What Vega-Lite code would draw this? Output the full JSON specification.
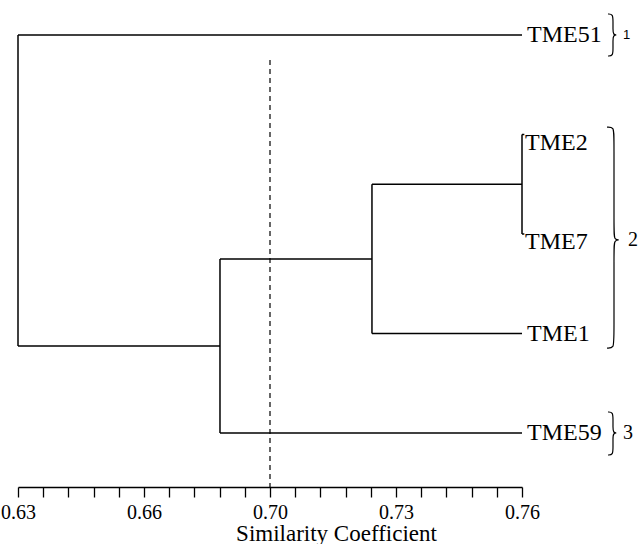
{
  "$schema": "https://vega.github.io/schema/vega-lite/v6.json",
  "width": 504,
  "height": 487,
  "autosize": {"type": "none"},
  "padding": {"left": 18, "top": 0, "right": 116, "bottom": 57},
  "background": "white",
  "config": {"view": {"stroke": null}},
  "datasets": {
    "segments": [
      {"x": 0.63, "x2": 0.76, "y": 1, "y2": 1},
      {"x": 0.63, "x2": 0.63, "y": 1, "y2": 4.125},
      {"x": 0.63, "x2": 0.6821, "y": 4.125, "y2": 4.125},
      {"x": 0.6821, "x2": 0.6821, "y": 3.25, "y2": 5},
      {"x": 0.6821, "x2": 0.76, "y": 5, "y2": 5},
      {"x": 0.6821, "x2": 0.7213, "y": 3.25, "y2": 3.25},
      {"x": 0.7213, "x2": 0.7213, "y": 2.5, "y2": 4},
      {"x": 0.7213, "x2": 0.76, "y": 4, "y2": 4},
      {"x": 0.7213, "x2": 0.76, "y": 2.5, "y2": 2.5},
      {"x": 0.76, "x2": 0.76, "y": 2, "y2": 3},
      {"x": 0.76, "x2": 0.7606, "y": 2, "y2": 2},
      {"x": 0.76, "x2": 0.7606, "y": 3, "y2": 3}
    ],
    "leaves": [
      {"name": "TME51", "x": 0.76, "y": 1},
      {"name": "TME2", "x": 0.76, "y": 2},
      {"name": "TME7", "x": 0.76, "y": 3},
      {"name": "TME1", "x": 0.76, "y": 4},
      {"name": "TME59", "x": 0.76, "y": 5}
    ],
    "cut": [{"x": 0.695, "y": 1.25, "y2": 5.5427}],
    "braces": [
      {"g": 1, "o": 1, "x": 0.78218, "y": 0.789},
      {"g": 1, "o": 2, "x": 0.78347, "y": 0.789},
      {"g": 1, "o": 3, "x": 0.78347, "y": 0.869},
      {"g": 1, "o": 4, "x": 0.78347, "y": 0.94},
      {"g": 1, "o": 5, "x": 0.78347, "y": 1.0},
      {"g": 1, "o": 6, "x": 0.78476, "y": 1.0},
      {"g": 1, "o": 7, "x": 0.78347, "y": 1.0},
      {"g": 1, "o": 8, "x": 0.78347, "y": 1.06},
      {"g": 1, "o": 9, "x": 0.78347, "y": 1.131},
      {"g": 1, "o": 10, "x": 0.78347, "y": 1.211},
      {"g": 1, "o": 11, "x": 0.78218, "y": 1.211},
      {"g": 2, "o": 1, "x": 0.78193, "y": 1.925},
      {"g": 2, "o": 2, "x": 0.78373, "y": 1.925},
      {"g": 2, "o": 3, "x": 0.78373, "y": 2.025},
      {"g": 2, "o": 4, "x": 0.78373, "y": 2.98},
      {"g": 2, "o": 5, "x": 0.78373, "y": 3.06},
      {"g": 2, "o": 6, "x": 0.78554, "y": 3.06},
      {"g": 2, "o": 7, "x": 0.78373, "y": 3.06},
      {"g": 2, "o": 8, "x": 0.78373, "y": 3.141},
      {"g": 2, "o": 9, "x": 0.78373, "y": 4.046},
      {"g": 2, "o": 10, "x": 0.78373, "y": 4.146},
      {"g": 2, "o": 11, "x": 0.78193, "y": 4.146},
      {"g": 3, "o": 1, "x": 0.78218, "y": 4.789},
      {"g": 3, "o": 2, "x": 0.78347, "y": 4.789},
      {"g": 3, "o": 3, "x": 0.78347, "y": 4.869},
      {"g": 3, "o": 4, "x": 0.78347, "y": 4.94},
      {"g": 3, "o": 5, "x": 0.78347, "y": 5.0},
      {"g": 3, "o": 6, "x": 0.78476, "y": 5.0},
      {"g": 3, "o": 7, "x": 0.78347, "y": 5.0},
      {"g": 3, "o": 8, "x": 0.78347, "y": 5.06},
      {"g": 3, "o": 9, "x": 0.78347, "y": 5.141},
      {"g": 3, "o": 10, "x": 0.78347, "y": 5.221},
      {"g": 3, "o": 11, "x": 0.78218, "y": 5.221}
    ],
    "groups": [
      {"label": "1", "x": 0.78605, "y": 1.0},
      {"label": "2", "x": 0.78734, "y": 3.06},
      {"label": "3", "x": 0.78605, "y": 5.0}
    ]
  },
  "layer": [
    {
      "data": {"name": "segments"},
      "mark": {"type": "rule", "stroke": "black", "strokeWidth": 1.5},
      "encoding": {
        "x": {
          "field": "x", "type": "quantitative",
          "scale": {"domain": [0.63, 0.76], "nice": false, "zero": false},
          "axis": {
            "values": [0.63, 0.6365, 0.643, 0.6495, 0.656, 0.6625, 0.669, 0.6755, 0.682, 0.6885, 0.695, 0.7015, 0.708, 0.7145, 0.721, 0.7275, 0.734, 0.7405, 0.747, 0.7535, 0.76],
            "tickCount": 60,
            "labelExpr": "abs((datum.value-0.63)/0.0325 - round((datum.value-0.63)/0.0325)) < 0.05 ? format(datum.value + 0.0001, '.2f') : ''",
            "tickSize": 10,
            "tickColor": "black",
            "tickWidth": 1.3,
            "domainColor": "black",
            "domainWidth": 1.5,
            "grid": false,
            "labelFont": "Liberation Serif",
            "labelFontSize": 20,
            "labelColor": "black",
            "labelPadding": 5,
            "labelDx": 8,
            "labelOverlap": false,
            "labelFlush": false,
            "labelBound": false,
            "title": "Similarity Coefficient",
            "titleFont": "Liberation Serif",
            "titleFontSize": 23,
            "titleFontWeight": "normal",
            "titleColor": "black",
            "titleX": 318,
            "titleY": 53,
            "titleAlign": "center",
            "titleBaseline": "alphabetic",
            "encode": {
              "ticks": {
                "update": {
                  "y2": {"signal": "abs((datum.value-0.63)/0.0325 - round((datum.value-0.63)/0.0325)) < 0.05 ? 10 : 5"}
                }
              }
            }
          }
        },
        "x2": {"field": "x2"},
        "y": {
          "field": "y", "type": "quantitative",
          "scale": {"domain": [0.6482, 5.5427], "nice": false, "zero": false, "reverse": true},
          "axis": null
        },
        "y2": {"field": "y2"}
      }
    },
    {
      "data": {"name": "cut"},
      "mark": {"type": "rule", "stroke": "black", "strokeWidth": 1.2, "strokeDash": [5, 4]},
      "encoding": {
        "x": {"field": "x", "type": "quantitative"},
        "y": {"field": "y", "type": "quantitative"},
        "y2": {"field": "y2"}
      }
    },
    {
      "data": {"name": "leaves"},
      "transform": [{"filter": {"not": {"field": "name", "oneOf": ["TME2", "TME7"]}}}],
      "mark": {"type": "text", "align": "left", "baseline": "middle", "dx": 5, "font": "Liberation Serif", "fontSize": 24, "color": "black"},
      "encoding": {
        "x": {"field": "x", "type": "quantitative"},
        "y": {"field": "y", "type": "quantitative"},
        "text": {"field": "name"}
      }
    },
    {
      "data": {"name": "leaves"},
      "transform": [{"filter": {"field": "name", "oneOf": ["TME2", "TME7"]}}],
      "mark": {"type": "text", "align": "left", "baseline": "middle", "dx": 3, "dy": 8, "font": "Liberation Serif", "fontSize": 24, "color": "black"},
      "encoding": {
        "x": {"field": "x", "type": "quantitative"},
        "y": {"field": "y", "type": "quantitative"},
        "text": {"field": "name"}
      }
    },
    {
      "data": {"name": "braces"},
      "mark": {"type": "line", "stroke": "black", "strokeWidth": 1.2, "interpolate": "basis"},
      "encoding": {
        "x": {"field": "x", "type": "quantitative"},
        "y": {"field": "y", "type": "quantitative"},
        "detail": {"field": "g"},
        "order": {"field": "o", "type": "quantitative"}
      }
    },
    {
      "data": {"name": "groups"},
      "transform": [{"filter": "datum.label == '1'"}],
      "mark": {"type": "text", "align": "left", "baseline": "middle", "color": "black", "font": "Liberation Sans", "fontSize": 13},
      "encoding": {
        "x": {"field": "x", "type": "quantitative"},
        "y": {"field": "y", "type": "quantitative"},
        "text": {"field": "label"}
      }
    },
    {
      "data": {"name": "groups"},
      "transform": [{"filter": "datum.label != '1'"}],
      "mark": {"type": "text", "align": "left", "baseline": "middle", "color": "black", "font": "Liberation Serif", "fontSize": 20},
      "encoding": {
        "x": {"field": "x", "type": "quantitative"},
        "y": {"field": "y", "type": "quantitative"},
        "text": {"field": "label"}
      }
    }
  ]
}
